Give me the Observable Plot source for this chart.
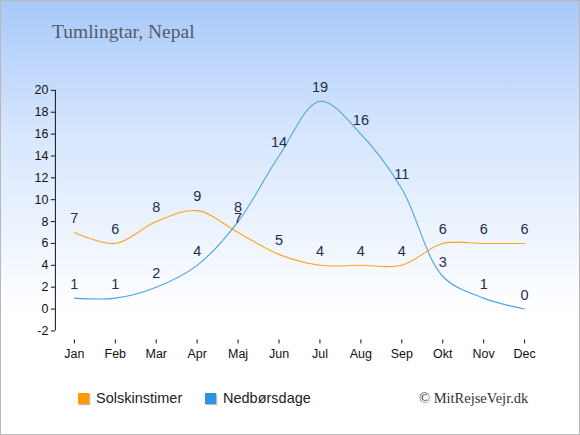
<!DOCTYPE html>
<html>
<head>
<meta charset="utf-8">
<script src="https://cdn.jsdelivr.net/npm/d3@7"></script>
<script src="https://cdn.jsdelivr.net/npm/@observablehq/plot@0.6"></script>
<style>
  html, body { margin: 0; padding: 0; }
  #wrap {
    position: relative; width: 578px; height: 433px;
    border: 1px solid #b8b8b8;
    background: linear-gradient(to bottom, #a8c9fb 0%, #d6e6fd 30%, #ffffff 72%, #ffffff 100%);
    overflow: hidden;
  }
  #title {
    position: absolute; left: 51px; top: 20px;
    font-family: "Liberation Serif", "DejaVu Serif", serif; font-size: 19.5px; color: #555a66;
  }
  #chart { position: absolute; left: -1px; top: -1px; }
  .legend {
    position: absolute; top: 389px; font-family: "Liberation Sans", Arial, sans-serif;
    font-size: 14.5px; color: #222;
  }
  .sw { display: inline-block; width: 11px; height: 11px; vertical-align: -1px; margin-right: 7px; box-shadow: 1px 1px 1px #bbb; }
  #copy {
    position: absolute; left: 418px; top: 389px;
    font-family: "Liberation Serif", "DejaVu Serif", serif; font-size: 14.5px; color: #333;
  }
</style>
</head>
<body>
<div id="wrap">
  <div id="chart"></div>
  <div id="title">Tumlingtar, Nepal</div>
  <div class="legend" style="left:77px"><span class="sw" style="background:#ff9a00"></span>Solskinstimer</div>
  <div class="legend" style="left:204px"><span class="sw" style="background:#2d93e6"></span>Nedbørsdage</div>
  <div id="copy">© MitRejseVejr.dk</div>
</div>
<script>
const months = ["Jan","Feb","Mar","Apr","Maj","Jun","Jul","Aug","Sep","Okt","Nov","Dec"];
const sunHours = [7,6,8,9,7,5,4,4,4,6,6,6];
const rainDays = [1,1,2,4,8,14,19,16,11,3,1,0];
const yTicks = [-2,0,2,4,6,8,10,12,14,16,18,20];

const sun = months.map((m,i) => ({month: m, value: sunHours[i]}));
const rain = months.map((m,i) => ({month: m, value: rainDays[i]}));

const chart = Plot.plot({
  width: 580,
  height: 435,
  marginLeft: 55,
  marginRight: 55,
  marginTop: 90,
  marginBottom: 95,
  style: {background: "transparent", fontFamily: "Liberation Sans, Arial, sans-serif", fontSize: "12.5px", color: "#111"},
  x: {type: "point", domain: months, padding: 0, insetLeft: 19, insetRight: 0, tickSize: 4, tickPadding: 5, label: null},
  y: {domain: [-2, 20], insetBottom: 9, ticks: yTicks, tickFormat: d => String(d), tickSize: 4, tickPadding: 3, label: null},
  marks: [
    Plot.ruleY([yTicks[0]], {x1: months[0], x2: months[months.length - 1], dy: 9, stroke: "#111"}),
    Plot.ruleX([months[0]], {y1: yTicks[0], y2: yTicks[yTicks.length - 1], dx: -19, stroke: "#111"}),
    Plot.line(sun, {x: "month", y: "value", stroke: "#ffa31a", strokeWidth: 1.1, curve: "catmull-rom"}),
    Plot.line(rain, {x: "month", y: "value", stroke: "#4aa3ea", strokeWidth: 1.1, curve: "catmull-rom"}),
    Plot.text(sun, {x: "month", y: "value", text: "value", dy: -14, fill: "#1f2d4a", fontSize: 14.5}),
    Plot.text(rain, {x: "month", y: "value", text: "value", dy: -14, fill: "#1f2d4a", fontSize: 14.5})
  ]
});
document.getElementById("chart").appendChild(chart);
</script>
</body>
</html>
